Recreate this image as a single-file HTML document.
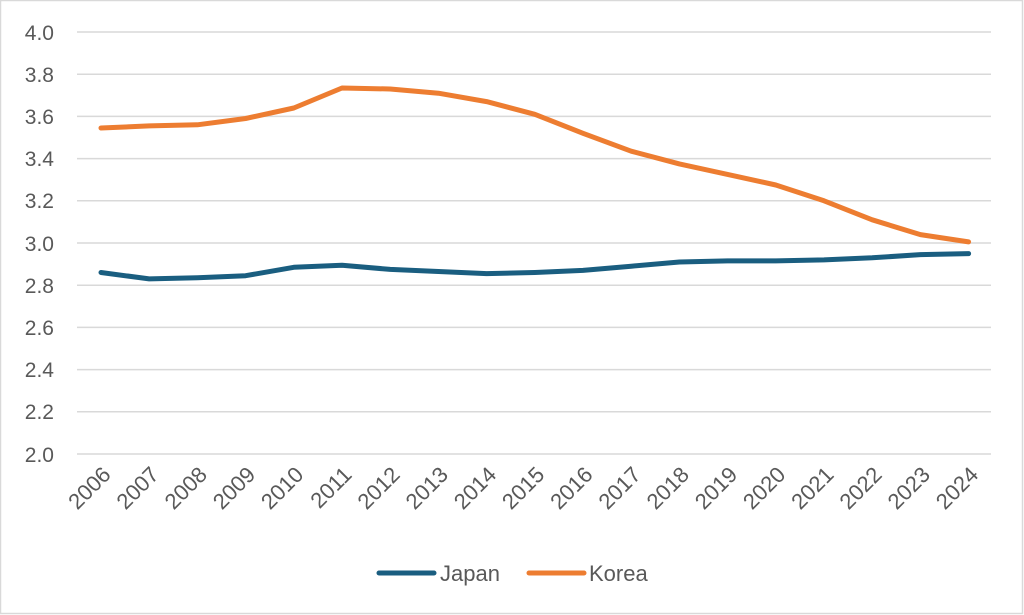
<!DOCTYPE html>
<html><head><meta charset="utf-8"><style>
html,body{margin:0;padding:0;background:#fff;}
svg{display:block;}
text{font-family:"Liberation Sans",sans-serif;fill:#595959;}
</style></head><body>
<svg width="1024" height="615" viewBox="0 0 1024 615" xmlns="http://www.w3.org/2000/svg">
<rect x="0.5" y="0.5" width="1022" height="613" fill="#fff" stroke="#d9d9d9" stroke-width="1.5"/>
<g stroke="#d9d9d9" stroke-width="1.5">
<line x1="77" y1="32" x2="991" y2="32"/>
<line x1="77" y1="74.2" x2="991" y2="74.2"/>
<line x1="77" y1="116.4" x2="991" y2="116.4"/>
<line x1="77" y1="158.6" x2="991" y2="158.6"/>
<line x1="77" y1="200.8" x2="991" y2="200.8"/>
<line x1="77" y1="243" x2="991" y2="243"/>
<line x1="77" y1="285.2" x2="991" y2="285.2"/>
<line x1="77" y1="327.4" x2="991" y2="327.4"/>
<line x1="77" y1="369.6" x2="991" y2="369.6"/>
<line x1="77" y1="411.8" x2="991" y2="411.8"/>
<line x1="77" y1="454" x2="991" y2="454"/>
</g>
<g font-size="21" text-anchor="end">
<text x="54" y="40">4.0</text>
<text x="54" y="82">3.8</text>
<text x="54" y="124">3.6</text>
<text x="54" y="166">3.4</text>
<text x="54" y="208">3.2</text>
<text x="54" y="251">3.0</text>
<text x="54" y="293">2.8</text>
<text x="54" y="335">2.6</text>
<text x="54" y="377">2.4</text>
<text x="54" y="419">2.2</text>
<text x="54" y="462">2.0</text>
</g>
<g font-size="22" text-anchor="end">
<text transform="translate(112,476) rotate(-45)">2006</text>
<text transform="translate(160.2,476) rotate(-45)">2007</text>
<text transform="translate(208.4,476) rotate(-45)">2008</text>
<text transform="translate(256.6,476) rotate(-45)">2009</text>
<text transform="translate(304.8,476) rotate(-45)">2010</text>
<text transform="translate(353,476) rotate(-45)">2011</text>
<text transform="translate(401.2,476) rotate(-45)">2012</text>
<text transform="translate(449.4,476) rotate(-45)">2013</text>
<text transform="translate(497.6,476) rotate(-45)">2014</text>
<text transform="translate(545.8,476) rotate(-45)">2015</text>
<text transform="translate(594,476) rotate(-45)">2016</text>
<text transform="translate(642.2,476) rotate(-45)">2017</text>
<text transform="translate(690.4,476) rotate(-45)">2018</text>
<text transform="translate(738.6,476) rotate(-45)">2019</text>
<text transform="translate(786.8,476) rotate(-45)">2020</text>
<text transform="translate(835,476) rotate(-45)">2021</text>
<text transform="translate(883.2,476) rotate(-45)">2022</text>
<text transform="translate(931.4,476) rotate(-45)">2023</text>
<text transform="translate(979.6,476) rotate(-45)">2024</text>
</g>
<polyline fill="none" stroke="#ed7d31" stroke-width="5" stroke-linejoin="round" stroke-linecap="round"
points="101,128 149.2,125.9 197.4,124.8 245.6,118.5 293.8,108 342,88 390.2,89 438.4,93.2 486.6,101.6 534.8,114.3 583,133.3 631.2,151.2 679.4,163.9 727.6,174.4 775.8,185 824,200.8 872.2,219.8 920.4,234.6 968.6,241.9"/>
<polyline fill="none" stroke="#1a5e80" stroke-width="5" stroke-linejoin="round" stroke-linecap="round"
points="101,272.5 149.2,278.9 197.4,277.8 245.6,275.7 293.8,267.3 342,265.2 390.2,269.4 438.4,271.5 486.6,273.6 534.8,272.5 583,270.4 631.2,266.2 679.4,262 727.6,260.9 775.8,260.9 824,259.9 872.2,257.8 920.4,254.6 968.6,253.6"/>
<line x1="379" y1="573" x2="434" y2="573" stroke="#1a5e80" stroke-width="5" stroke-linecap="round"/>
<text x="440" y="581" font-size="22">Japan</text>
<line x1="529" y1="573" x2="584" y2="573" stroke="#ed7d31" stroke-width="5" stroke-linecap="round"/>
<text x="589" y="581" font-size="22">Korea</text>
</svg>
</body></html>
